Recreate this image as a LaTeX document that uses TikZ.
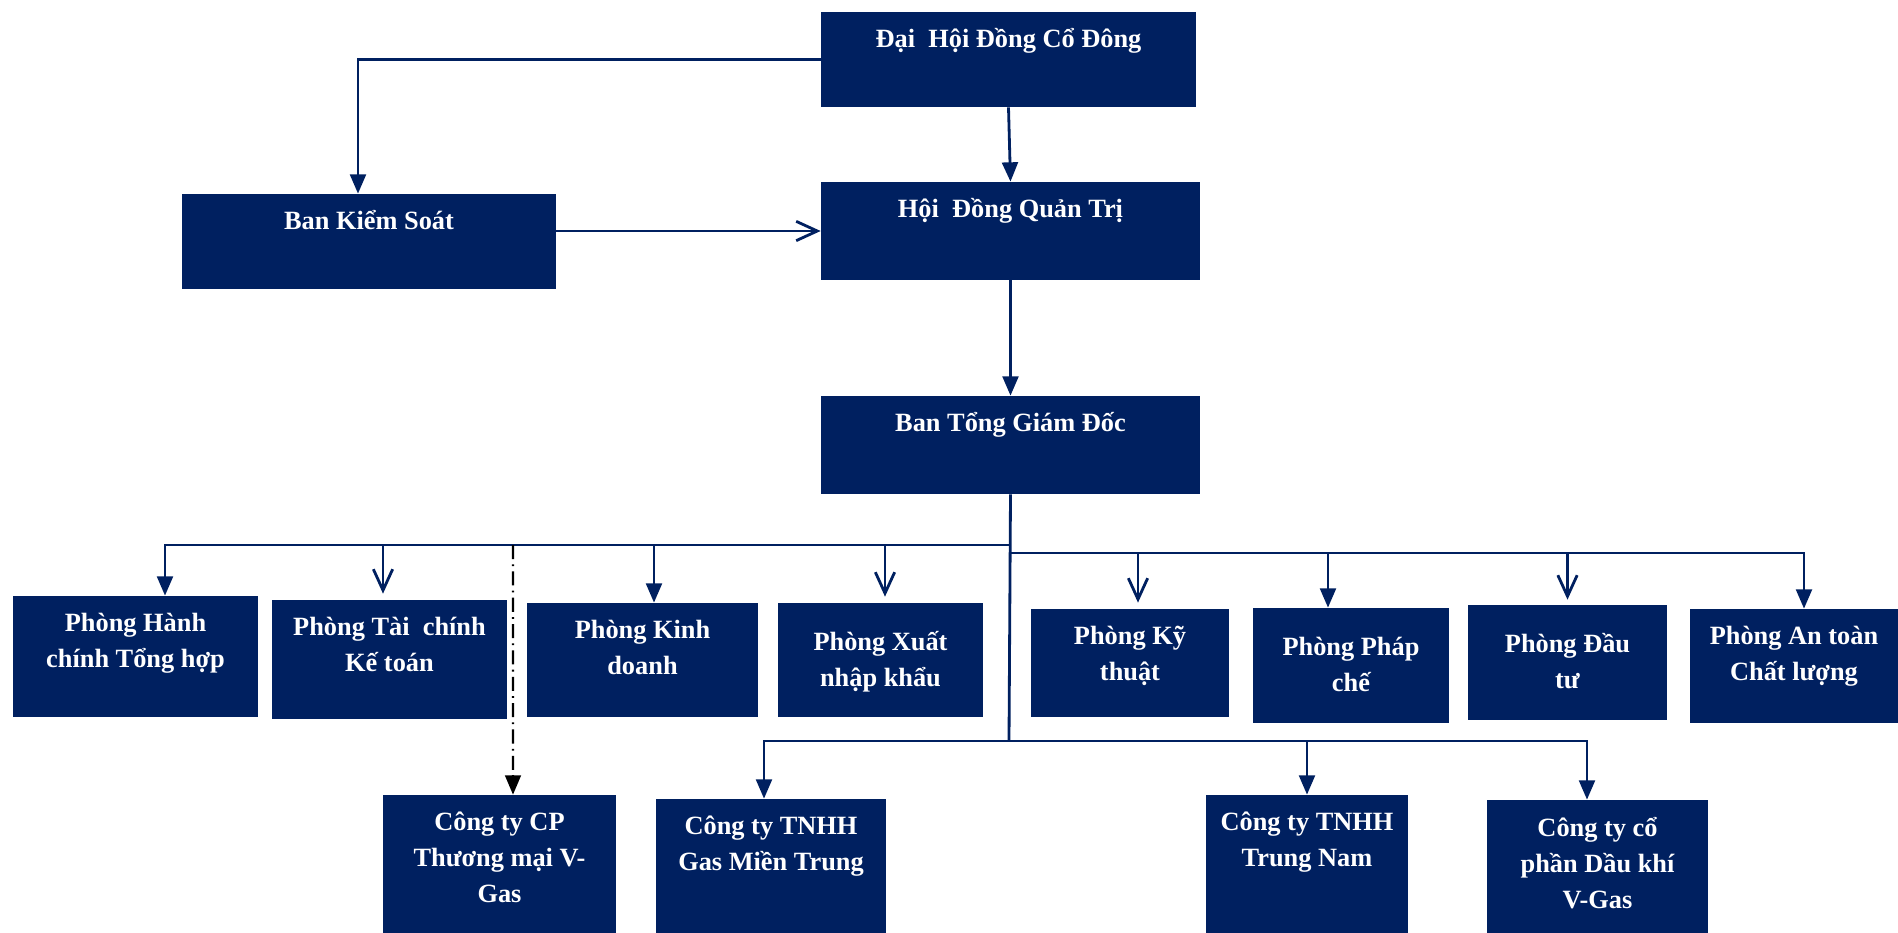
\documentclass[tikz,border=0pt]{standalone}
\usepackage{fontspec}
\setmainfont{Liberation Serif}
\usetikzlibrary{arrows.meta,fit}
\definecolor{navy}{RGB}{0,32,96}
\newcommand{\topgap}[1][20.4pt]{\rule{0pt}{#1}}

\tikzset{
  unit/.style={rectangle, fill=navy, inner sep=0pt},
  boxtext/.style={text=white, font=\bfseries\fontsize{15}{20.4}\selectfont,
    align=center, anchor=north, inner sep=0pt},
  link/.style={draw=navy, line width=1.6pt},
  fillhead/.style={-{Triangle[length=11pt,width=9pt]}},
  openhead/.style={-{Straight Barb[length=12pt,width=11pt]}}
}

\begin{document}
\begin{tikzpicture}[x=0.02cm, y=-0.02cm]

            %\draw [help lines] (0,0) grid (1898,933);
            \useasboundingbox (0,0) rectangle (1898,933);

            % top levels
            \node (dhdcd) [unit, fit={(821,12) (1196,107)}, label={[boxtext]north:\topgap Đại\ \ Hội Đồng Cổ Đông}] {};
            \node (bks)   [unit, fit={(182,194) (556,289)}, label={[boxtext]north:\topgap Ban Kiểm Soát}] {};
            \node (hdqt)  [unit, fit={(821,182) (1200,280)}, label={[boxtext]north:\topgap Hội\ \ Đồng Quản Trị}] {};
            \node (tgd)   [unit, fit={(821,396) (1200,494)}, label={[boxtext]north:\topgap Ban Tổng Giám Đốc}] {};

            % departments
            \node (phc)  [unit, fit={(13,596) (258,717)}, label={[boxtext]north:\topgap Phòng Hành\\chính Tổng hợp}] {};
            \node (ptc)  [unit, fit={(272,600) (507,719)}, label={[boxtext]north:\topgap Phòng Tài\ \ chính\\Kế toán}] {};
            \node (pkd)  [unit, fit={(527,603) (758,717)}, label={[boxtext]north:\topgap Phòng Kinh\\doanh}] {};
            \node (pxnk) [unit, fit={(778,603) (983,717)}, label={[boxtext]north:\topgap[27.3pt]Phòng Xuất\\nhập khẩu}] {};
            \node (pkt)  [unit, fit={(1031,609) (1229,717)}, label={[boxtext]north:\topgap Phòng Kỹ\\thuật}] {};
            \node (ppc)  [unit, fit={(1253,608) (1449,723)}, label={[boxtext]north:\topgap[27.3pt]Phòng Pháp\\chế}] {};
            \node (pdt)  [unit, fit={(1468,605) (1667,720)}, label={[boxtext]north:\topgap[27.3pt]Phòng Đầu\\tư}] {};
            \node (pat)  [unit, fit={(1690,609) (1898,723)}, label={[boxtext]north:\topgap Phòng An toàn\\Chất lượng}] {};

            % companies
            \node (ctm) [unit, fit={(383,795) (616,933)}, label={[boxtext]north:\topgap Công ty CP\\Thương mại V-\\Gas}] {};
            \node (cmt) [unit, fit={(656,799) (886,933)}, label={[boxtext]north:\topgap Công ty TNHH\\Gas Miền Trung}] {};
            \node (ctn) [unit, fit={(1206,795) (1408,933)}, label={[boxtext]north:\topgap Công ty TNHH\\Trung Nam}] {};
            \node (cdk) [unit, fit={(1487,800) (1708,933)}, label={[boxtext]north:\topgap[21pt]Công ty cổ\\phần Dầu khí\\V-Gas}] {};

            \coordinate (hubA) at (1009,545);
            \coordinate (hubB) at (1010,553);
            \coordinate (hubC) at (1009,741);
            \coordinate (tap)  at (513,545);

            \draw[link, fillhead] (dhdcd.west) -| ([shift={(-11,0)}]bks.north);
            \draw[link, fillhead] (dhdcd.south) -- (hdqt.north);
            \draw[link, openhead] (bks.east |- hdqt.west) -- (hdqt.west);
            \draw[link, fillhead] (hdqt.south) -- (tgd.north);
            \draw[link] (tgd.south) -- (hubC);

            \draw[link, fillhead] (hubA) -| ([shift={(29.5,0)}]phc.north);
            \draw[link, openhead] (hubA) -| ([shift={(-6.5,-6)}]ptc.north);
            \draw[link, fillhead] (hubA) -| ([shift={(11.5,0)}]pkd.north);
            \draw[link, openhead] (hubA) -| ([shift={(4.5,-6)}]pxnk.north);

            \draw[link, openhead] (hubB) -| ([shift={(8,-6)}]pkt.north);
            \draw[link, fillhead] (hubB) -| ([shift={(-23,0)}]ppc.north);
            \draw[link, openhead] (hubB) -| ([shift={(0,-5)}]pdt.north);
            \draw[link, fillhead] (hubB) -| ([shift={(10,0)}]pat.north);

            \draw[link, fillhead] (hubC) -| ([shift={(-7,0)}]cmt.north);
            \draw[link, fillhead] (hubC) -| (ctn.north);
            \draw[link, fillhead] (hubC) -| ([shift={(-10.5,0)}]cdk.north);

            \draw[black, line width=1.2pt, dash pattern=on 8pt off 3pt on 1pt off 3pt, -{Triangle[length=11pt,width=9pt]}] (tap) -- ([shift={(13.5,0)}]ctm.north);
        \end{tikzpicture}
\end{document}
